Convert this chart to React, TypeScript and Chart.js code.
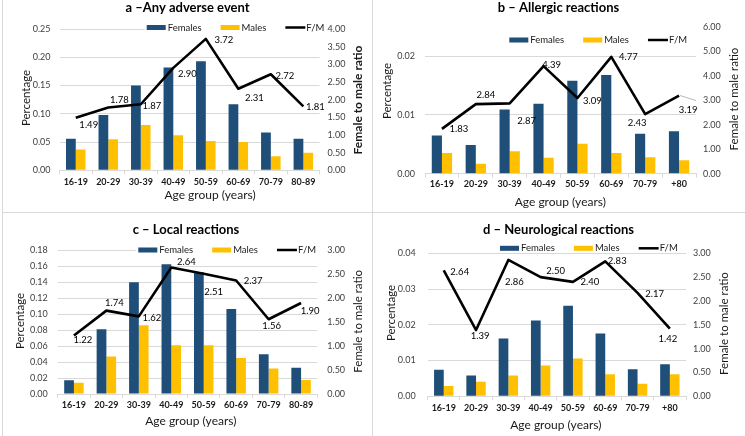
import React, { useEffect, useRef } from "react";
import { Chart, registerables } from "chart.js";

Chart.register(...registerables);

// ---------- data ----------
const agesA = ["16-19", "20-29", "30-39", "40-49", "50-59", "60-69", "70-79", "80-89"];
const agesB = ["16-19", "20-29", "30-39", "40-49", "50-59", "60-69", "70-79", "+80"];

const femalesAny = [0.056, 0.098, 0.150, 0.182, 0.193, 0.117, 0.067, 0.056];
const malesAny = [0.037, 0.055, 0.080, 0.062, 0.052, 0.050, 0.025, 0.031];
const ratioAny = [1.49, 1.78, 1.87, 2.90, 3.72, 2.31, 2.72, 1.81];

const femalesAllergic = [0.0065, 0.0049, 0.0109, 0.0119, 0.0158, 0.0168, 0.0068, 0.0072];
const malesAllergic = [0.0035, 0.0017, 0.0038, 0.0027, 0.0051, 0.0035, 0.0028, 0.0023];
const ratioAllergic = [1.83, 2.84, 2.87, 4.39, 3.09, 4.77, 2.43, 3.19];

const femalesLocal = [0.0171, 0.081, 0.140, 0.1625, 0.1525, 0.1065, 0.0497, 0.033];
const malesLocal = [0.014, 0.047, 0.086, 0.061, 0.061, 0.045, 0.032, 0.0175];
const ratioLocal = [1.22, 1.74, 1.62, 2.64, 2.51, 2.37, 1.56, 1.90];

const femalesNeuro = [0.0074, 0.0058, 0.0162, 0.0212, 0.0253, 0.0176, 0.0076, 0.0090];
const malesNeuro = [0.0029, 0.0041, 0.0058, 0.0086, 0.0106, 0.0062, 0.0035, 0.0062];
const ratioNeuro = [2.64, 1.39, 2.86, 2.50, 2.40, 2.83, 2.17, 1.42];

// ---------- styles ----------
const BLUE = "#1F4E79";
const GOLD = "#FFC000";
const GRID = "#D9D9D9";
const TXT = "#1a1a1a";
const TICK = "#404040";
const FONT = "Lato, 'Noto Sans', sans-serif";

type Panel = {
  title: string;
  cats: string[];
  females: number[];
  males: number[];
  ratio: number[];
  leftMax: number;
  leftStep: number;
  rightMax: number;
  rightStep: number;
  area: { l: number; r: number; t: number; b: number };
  titlePos: [number, number];
  legendPos: [number, number];
  leftTitle: [number, number];
  rightTitle: [number, number];
  rightBold: boolean;
  xTitle: [number, number];
  leftPad: number;
  rightPad: number;
  xPad: number;
  labelOffsets: [number, number][];
  leader?: { index: number; to: [number, number] };
};

const panels: Panel[] = [
  {
    title: "a \u2013Any adverse event",
    cats: agesA, females: femalesAny, males: malesAny, ratio: ratioAny,
    leftMax: 0.25, leftStep: 0.05, rightMax: 4, rightStep: 0.5,
    area: { l: 59.5, r: 319.6, t: 29, b: 170.3 },
    titlePos: [187.5, 7.5], legendPos: [146.7, 27.5],
    leftTitle: [26, 98], rightTitle: [358, 100], rightBold: true, xTitle: [210, 195.5],
    leftPad: 9, rightPad: 8, xPad: 2.5,
    labelOffsets: [[13, 7], [11, -7], [11, 2], [14, 6], [18, 1], [16, 9], [14, 2], [12, 1]],
  },
  {
    title: "b \u2013 Allergic reactions",
    cats: agesB, females: femalesAllergic, males: malesAllergic, ratio: ratioAllergic,
    leftMax: 0.025, leftStep: 0.01, rightMax: 6, rightStep: 1,
    area: { l: 425, r: 696, t: 26.7, b: 173.7 },
    titlePos: [558.5, 7.5], legendPos: [509.3, 40],
    leftTitle: [387, 91], rightTitle: [734, 99], rightBold: false, xTitle: [560.3, 201.7],
    leftPad: 10, rightPad: 7, xPad: 1,
    labelOffsets: [[17, 0], [10, -9], [17, 18], [8, -1], [15, 3], [17, 0], [-8, 9], [9, 14]],
    leader: { index: 7, to: [17, 5] },
  },
  {
    title: "c \u2013 Local reactions",
    cats: agesA, females: femalesLocal, males: malesLocal, ratio: ratioLocal,
    leftMax: 0.18, leftStep: 0.02, rightMax: 3, rightStep: 0.5,
    area: { l: 57.7, r: 317.3, t: 250.3, b: 394 },
    titlePos: [186, 229.7], legendPos: [138.3, 250],
    leftTitle: [20, 321], rightTitle: [358.3, 321.3], rightBold: false, xTitle: [190.8, 420.7],
    leftPad: 10, rightPad: 10, xPad: 2,
    labelOffsets: [[9, 4], [8, -8], [13, 2], [15, -6], [10, 18], [17, 0], [3, 7], [9, 8]],
  },
  {
    title: "d \u2013 Neurological reactions",
    cats: agesB, females: femalesNeuro, males: malesNeuro, ratio: ratioNeuro,
    leftMax: 0.04, leftStep: 0.01, rightMax: 3, rightStep: 0.5,
    area: { l: 427.6, r: 686, t: 253.3, b: 396.3 },
    titlePos: [558.5, 229.7], legendPos: [500, 248.3],
    leftTitle: [391, 313], rightTitle: [724.5, 323.5], rightBold: false, xTitle: [555.8, 424.7],
    leftPad: 12, rightPad: 7, xPad: 2.5,
    labelOffsets: [[16, 1], [4, 6], [6, 22], [15, -6], [17, 0], [12, 0], [17, 1], [-2, 10]],
  },
];

const W = 745;
const H = 436;

function makeDecor(p: Panel) {
  return {
    id: "decor",
    afterDatasetsDraw(chart: any) {
      const ctx = chart.ctx;
      const meta = chart.getDatasetMeta(2);
      ctx.save();
      ctx.font = `9.5px ${FONT}`;
      ctx.fillStyle = "#000";
      ctx.textAlign = "center";
      ctx.textBaseline = "middle";
      meta.data.forEach((pt: any, i: number) => {
        const [dx, dy] = p.labelOffsets[i];
        ctx.fillText(p.ratio[i].toFixed(2), pt.x + dx, pt.y + dy);
      });
      if (p.leader) {
        const pt = meta.data[p.leader.index];
        ctx.strokeStyle = "#A6A6A6";
        ctx.lineWidth = 0.8;
        ctx.beginPath();
        ctx.moveTo(pt.x + 1, pt.y);
        ctx.lineTo(pt.x + p.leader.to[0], pt.y + p.leader.to[1]);
        ctx.stroke();
      }
      ctx.restore();
    },
    afterDraw(chart: any) {
      const ctx = chart.ctx;
      ctx.save();
      // title
      ctx.fillStyle = "#000";
      ctx.textAlign = "center";
      ctx.textBaseline = "middle";
      ctx.font = `bold 13px ${FONT}`;
      ctx.fillText(p.title, p.titlePos[0], p.titlePos[1]);

      // legend
      const ds = chart.data.datasets;
      ctx.font = `9.5px ${FONT}`;
      const [lx, ly] = p.legendPos;
      const widths = ds.map((d: any) => ctx.measureText(d.label).width);
      const total = widths.reduce((a: number, b: number) => a + b, 0) + ds.length * 21 + (ds.length - 1) * 19;
      ctx.fillStyle = "#fff";
      ctx.fillRect(lx - 2, ly - 4.5, total + 4, 9);
      let x = lx;
      ds.forEach((d: any, i: number) => {
        if (d.type === "line") {
          ctx.strokeStyle = d.borderColor;
          ctx.lineWidth = 2.5;
          ctx.beginPath();
          ctx.moveTo(x, ly);
          ctx.lineTo(x + 20, ly);
          ctx.stroke();
        } else {
          ctx.fillStyle = d.backgroundColor;
          ctx.fillRect(x, ly - 2.5, 19, 5);
        }
        x += 21;
        ctx.fillStyle = TXT;
        ctx.textAlign = "left";
        ctx.fillText(d.label, x, ly);
        x += widths[i] + 19;
      });

      // axis titles
      ctx.fillStyle = TXT;
      ctx.textAlign = "center";
      ctx.font = `12px ${FONT}`;
      ctx.fillText("Age group (years)", p.xTitle[0], p.xTitle[1]);

      ctx.save();
      ctx.translate(p.leftTitle[0], p.leftTitle[1]);
      ctx.rotate(-Math.PI / 2);
      ctx.font = `11.5px ${FONT}`;
      ctx.fillText("Percentage", 0, 0);
      ctx.restore();

      ctx.save();
      ctx.translate(p.rightTitle[0], p.rightTitle[1]);
      ctx.rotate(-Math.PI / 2);
      ctx.font = p.rightBold ? `bold 12px ${FONT}` : `11.5px ${FONT}`;
      ctx.fillText("Female to male ratio", 0, 0);
      ctx.restore();

      ctx.restore();
    },
  };
}

function PanelChart({ p }: { p: Panel }) {
  const ref = useRef<HTMLCanvasElement | null>(null);
  useEffect(() => {
    if (!ref.current) return;
    const a = p.area;
    const chart = new Chart(ref.current, {
      type: "bar",
      data: {
        labels: p.cats,
        datasets: [
          {
            type: "bar",
            label: "Females",
            data: p.females,
            backgroundColor: BLUE,
            yAxisID: "y",
            order: 2,
            categoryPercentage: 0.6,
            barPercentage: 1,
          } as any,
          {
            type: "bar",
            label: "Males",
            data: p.males,
            backgroundColor: GOLD,
            yAxisID: "y",
            order: 2,
            categoryPercentage: 0.6,
            barPercentage: 1,
          } as any,
          {
            type: "line",
            label: "F/M",
            data: p.ratio,
            borderColor: "#000",
            backgroundColor: "#000",
            borderWidth: 2.6,
            pointRadius: 0,
            tension: 0,
            borderJoinStyle: "round",
            yAxisID: "y1",
            order: 0,
          } as any,
        ],
      },
      options: {
        responsive: false,
        animation: false,
        devicePixelRatio: 1,
        layout: { padding: { left: 0, right: 0, top: a.t, bottom: 0 } },
        plugins: {
          legend: { display: false },
          title: { display: false },
          tooltip: { enabled: false },
        },
        scales: {
          x: {
            type: "category",
            offset: true,
            grid: {
              offset: true,
              drawOnChartArea: false,
              drawTicks: true,
              tickLength: 4,
              color: GRID,
            },
            border: { display: true, color: GRID, width: 1 },
            ticks: {
              color: TXT,
              padding: p.xPad,
              maxRotation: 0,
              autoSkip: false,
              font: { family: FONT, size: 9, weight: "bold" },
            },
            afterFit(scale: any) {
              scale.height = H - a.b;
            },
          },
          y: {
            type: "linear",
            position: "left",
            min: 0,
            max: p.leftMax,
            grid: { color: GRID, drawTicks: false, lineWidth: 1 },
            border: { display: false },
            ticks: {
              stepSize: p.leftStep,
              includeBounds: false,
              color: TICK,
              padding: p.leftPad,
              font: { family: FONT, size: 9 },
              callback: (v: any) => Number(v).toFixed(2),
            },
            afterFit(scale: any) {
              scale.width = a.l;
            },
          },
          y1: {
            type: "linear",
            position: "right",
            min: 0,
            max: p.rightMax,
            grid: { drawOnChartArea: false, drawTicks: false },
            border: { display: false },
            ticks: {
              stepSize: p.rightStep,
              color: TICK,
              padding: p.rightPad,
              font: { family: FONT, size: 9 },
              callback: (v: any) => Number(v).toFixed(2),
            },
            afterFit(scale: any) {
              scale.width = W - a.r;
            },
          },
        },
      } as any,
      plugins: [makeDecor(p)],
    });
    return () => chart.destroy();
  }, [p]);
  return (
    <canvas
      ref={ref}
      width={W}
      height={H}
      style={{ position: "absolute", left: 0, top: 0, width: W, height: H }}
    />
  );
}

export default function App() {
  return (
    <div
      style={{
        position: "fixed",
        left: 0,
        top: 0,
        width: W,
        height: H,
        background: "#fff",
        overflow: "hidden",
      }}
    >
      <div style={{ position: "absolute", left: 372, top: 0, width: 1, height: H, background: GRID }} />
      <div style={{ position: "absolute", left: 2, top: 212, width: W - 2, height: 1, background: GRID }} />
      <div style={{ position: "absolute", left: 2, top: 0, width: 1, height: H, background: GRID }} />
      {panels.map((p, i) => (
        <PanelChart key={i} p={p} />
      ))}
    </div>
  );
}
